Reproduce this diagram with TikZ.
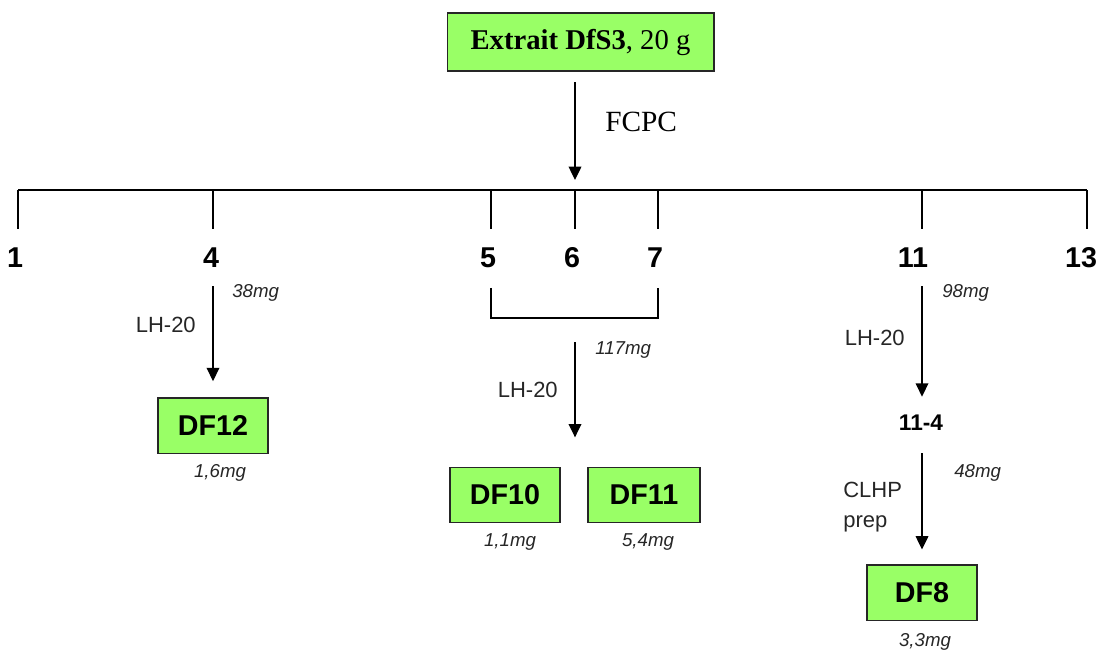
\documentclass[tikz,border=0pt]{standalone}
\usepackage{fontspec}
\setmainfont{Liberation Serif}
\setsansfont{Liberation Sans}
\usetikzlibrary{arrows.meta}

\definecolor{fracgreen}{RGB}{153,255,102}

\tikzset{
  frac/.style={draw=black!85, line width=1pt, fill=fracgreen, inner sep=0pt,
    minimum width=82.5pt, minimum height=41.5pt,
    font=\sffamily\bfseries\fontsize{21.5}{24}\selectfont},
  num/.style={inner sep=0pt, text height=15pt, text depth=0pt,
    font=\sffamily\bfseries\fontsize{21.5}{24}\selectfont},
  method/.style={inner sep=0pt, text=black!85,
    font=\sffamily\fontsize{16.5}{22.5}\selectfont},
  mass/.style={inner sep=0pt, text=black!85,
    font=\sffamily\itshape\fontsize{14}{16}\selectfont},
  flow/.style={line width=1pt, -{Triangle[length=10pt,width=9.5pt]}},
}

\begin{document}
\begin{tikzpicture}[x=0.75pt, y=-0.75pt]
  \useasboundingbox (0,0) rectangle (1099,650);

  % extrait de depart
  \node[draw=black!85, line width=1pt, fill=fracgreen, minimum width=200pt,
    minimum height=43.5pt, inner sep=0pt, font=\fontsize{21.5}{24}\selectfont]
    (extrait) at (580.5,42) {\textbf{Extrait DfS3}, 20 g};

  % fractions FCPC
  \foreach \x/\n in {18/1,213/4,491/5,575/6,658/7,922/11,1087/13}
    \draw[line width=1pt] (\x,190) coordinate (b\n) -- ++(0,39);
  \draw[line width=1pt] (b1) -- (b13);

  \draw[flow, shorten <=8pt, shorten >=7.5pt] (b6 |- extrait.south) -- (b6);
  \node[font=\fontsize{22}{24}\selectfont, inner sep=0pt, anchor=west] (fcpc) at (605,122) {FCPC};

  \node[num] (f1) at (15,257.5) {1};
  \node[num] (f4) at (211,257.5) {4};
  \node[num] (f5) at (488,257.5) {5};
  \node[num] (f6) at (572,257.5) {6};
  \node[num] (f7) at (655,257.5) {7};
  \node[num] (f11) at (913,257.5) {11};
  \node[num] (f13) at (1081,257.5) {13};

  % fraction 4
  \node[frac] (df12) at (213,425.5) {DF12};
  \draw[flow, shorten <=14pt, shorten >=12pt] (f4.south -| df12) -- (df12.north);
  \node[method, anchor=east] (lh4) at (196,325) {LH-20};
  \node[mass, anchor=west] (m4) at (232,293) {38mg};
  \node[mass] (m12) at (220,473) {1,6mg};

  % fractions 5 a 7
  \coordinate (pool) at (575,318);
  \draw[line width=1pt] ([yshift=-15pt]f5.south -| b5) |- (pool) -| ([yshift=-15pt]f7.south -| b7);
  \node[frac] (df10) at (505,495) {DF10};
  \node[frac, minimum width=84pt] (df11) at (644,495) {DF11};
  \draw[flow, shorten <=18pt, shorten >=22pt] (pool) -- (pool |- df10.north);
  \node[method, anchor=east] (lh5) at (558,390) {LH-20};
  \node[mass, anchor=west] (m5) at (595,350) {117mg};
  \node[mass] (m10) at (510,542) {1,1mg};
  \node[mass] (m11) at (648,542) {5,4mg};

  % fraction 11
  \node[inner sep=0pt, text height=12.6pt, text depth=0pt,
    font=\sffamily\bfseries\fontsize{17}{20}\selectfont] (sub11) at (921,422) {11-4};
  \node[frac] (df8) at (922,592.5) {DF8};
  \draw[flow, shorten <=14pt, shorten >=12.5pt] (f11.south -| b11) -- (b11 |- sub11.north);
  \draw[flow, shorten <=17pt, shorten >=11pt] (b11 |- sub11.south) -- (b11 |- df8.north);
  \node[method, anchor=east] (lh11) at (905,338) {LH-20};
  \node[method, anchor=west, align=left] (clhp) at (843,507) {CLHP\\prep};
  \node[mass, anchor=west] (m11a) at (942,293) {98mg};
  \node[mass, anchor=west] (m114) at (954,473) {48mg};
  \node[mass] (m8) at (925,642) {3,3mg};
\end{tikzpicture}
\end{document}
